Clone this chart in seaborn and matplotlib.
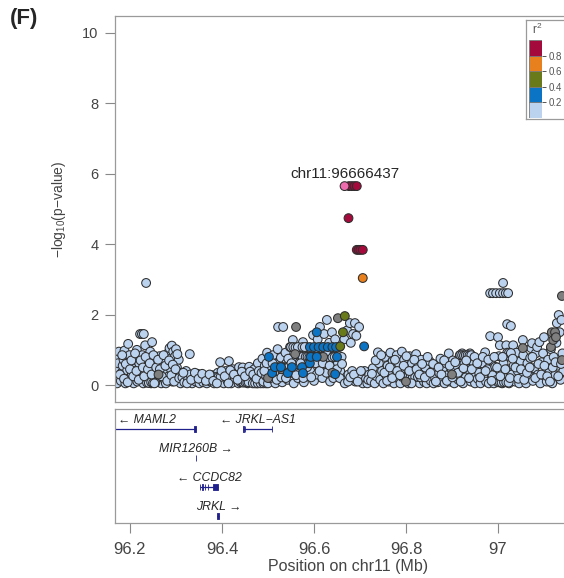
import matplotlib
matplotlib.use("Agg")
import matplotlib.pyplot as plt
import seaborn as sns
import pandas as pd

# --- SNPs: (position in Mb, -log10 p) ---
lb_left = [(96.171, 0.45), (96.172, 0.05), (96.173, 0.80), (96.174, 0.62), (96.175, 0.22),
           (96.176, 0.95), (96.180, 0.12), (96.182, 0.35), (96.184, 0.55), (96.186, 0.72),
           (96.188, 0.98), (96.190, 0.05), (96.192, 0.25), (96.194, 0.42), (96.196, 1.17),
           (96.197, 0.65), (96.199, 0.85), (96.202, 0.15), (96.204, 0.32), (96.206, 0.50),
           (96.208, 0.05), (96.210, 0.72), (96.212, 0.28), (96.215, 1.00), (96.216, 0.10),
           (96.218, 0.45), (96.220, 0.62), (96.222, 1.45), (96.226, 1.45), (96.230, 1.45),
           (96.224, 0.20), (96.227, 0.85), (96.229, 0.05), (96.232, 0.38), (96.233, 1.13),
           (96.235, 2.90), (96.236, 0.58), (96.238, 0.15), (96.240, 0.78), (96.242, 0.30),
           (96.244, 0.95), (96.246, 0.05), (96.248, 1.22), (96.250, 0.48), (96.252, 0.20),
           (96.254, 0.68), (96.256, 0.08), (96.258, 0.35), (96.260, 0.55), (96.262, 0.12),
           (96.264, 0.82), (96.266, 0.28), (96.268, 0.05), (96.270, 0.45), (96.272, 0.65),
           (96.274, 0.18), (96.276, 0.35), (96.278, 0.05), (96.280, 0.55), (96.282, 0.90),
           (96.284, 0.25), (96.286, 1.05), (96.288, 0.75), (96.289, 0.45), (96.291, 1.12),
           (96.292, 0.10), (96.294, 0.95), (96.295, 0.62), (96.297, 0.30), (96.298, 0.82),
           (96.300, 1.02), (96.302, 0.50), (96.304, 0.15), (96.306, 0.72), (96.308, 0.35),
           (96.310, 0.05), (96.237, 0.07), (96.241, 0.06), (96.246, 0.08), (96.250, 0.06),
           (96.255, 0.07),
           (96.178, 0.30), (96.183, 0.85), (96.187, 0.18), (96.191, 0.60), (96.195, 0.08),
           (96.200, 0.45), (96.203, 0.70), (96.207, 0.25), (96.211, 0.90), (96.214, 0.40),
           (96.219, 0.15), (96.223, 0.70), (96.228, 0.50), (96.231, 0.25), (96.234, 0.80),
           (96.239, 0.45), (96.243, 0.62), (96.247, 0.30), (96.251, 0.85), (96.253, 0.05),
           (96.257, 0.50), (96.261, 0.72), (96.265, 0.45), (96.269, 0.25), (96.273, 0.85),
           (96.277, 0.55), (96.281, 0.12), (96.285, 0.70), (96.290, 0.28), (96.293, 0.58),
           (96.296, 0.10), (96.299, 0.45), (96.303, 0.88), (96.307, 0.20)]

lb_mid = [(96.314, 0.22), (96.318, 0.08), (96.322, 0.40), (96.326, 0.15), (96.330, 0.88),
          (96.331, 0.30), (96.335, 0.05), (96.339, 0.20), (96.343, 0.10), (96.347, 0.32),
          (96.351, 0.05), (96.355, 0.18), (96.359, 0.08), (96.363, 0.25), (96.367, 0.05),
          (96.371, 0.15), (96.375, 0.10), (96.379, 0.28), (96.383, 0.05), (96.387, 0.18),
          (96.391, 0.35), (96.395, 0.08), (96.396, 0.65), (96.400, 0.20), (96.404, 0.05),
          (96.408, 0.40), (96.412, 0.12), (96.415, 0.68), (96.416, 0.28), (96.420, 0.05),
          (96.424, 0.45), (96.428, 0.18), (96.432, 0.30), (96.436, 0.05), (96.437, 0.51),
          (96.441, 0.22), (96.445, 0.50), (96.449, 0.10), (96.452, 0.38), (96.456, 0.05),
          (96.459, 0.52), (96.462, 0.25), (96.466, 0.12), (96.470, 0.45), (96.473, 0.30),
          (96.476, 0.05), (96.478, 0.62), (96.482, 0.20),
          (96.376, 0.23), (96.380, 0.23), (96.384, 0.22), (96.388, 0.23), (96.392, 0.22),
          (96.397, 0.23), (96.440, 0.08), (96.444, 0.08), (96.447, 0.07), (96.451, 0.08),
          (96.455, 0.07), (96.458, 0.08), (96.467, 0.05), (96.472, 0.05), (96.478, 0.05),
          (96.484, 0.05), (96.490, 0.05), (96.496, 0.05),
          (96.316, 0.35), (96.324, 0.05), (96.333, 0.15), (96.341, 0.35), (96.349, 0.18),
          (96.357, 0.32), (96.365, 0.12), (96.373, 0.30), (96.381, 0.12), (96.389, 0.05),
          (96.399, 0.40), (96.406, 0.25), (96.414, 0.05), (96.418, 0.42), (96.426, 0.30),
          (96.434, 0.15), (96.443, 0.38), (96.450, 0.25), (96.461, 0.38), (96.468, 0.30),
          (96.475, 0.18), (96.480, 0.40)]

lb_peak = [(96.486, 0.35), (96.488, 0.75), (96.490, 0.10), (96.493, 0.55), (96.496, 0.25),
           (96.498, 0.92), (96.500, 0.05), (96.503, 0.42), (96.506, 0.68), (96.508, 0.18),
           (96.511, 0.85), (96.513, 0.30), (96.516, 0.05), (96.518, 0.60), (96.521, 1.02),
           (96.522, 1.65), (96.523, 0.22), (96.526, 0.45), (96.528, 0.78), (96.531, 0.08),
           (96.533, 1.65), (96.535, 0.32), (96.538, 0.92), (96.540, 0.62), (96.543, 0.15),
           (96.545, 0.48), (96.548, 1.08), (96.550, 0.25), (96.553, 0.72), (96.554, 1.28),
           (96.556, 0.05), (96.559, 0.40), (96.562, 0.88), (96.565, 0.20), (96.567, 0.62),
           (96.570, 1.08), (96.572, 0.35), (96.575, 0.80), (96.576, 1.22), (96.578, 0.08),
           (96.581, 0.52), (96.584, 1.08), (96.586, 0.25), (96.589, 0.80), (96.592, 0.40),
           (96.595, 0.65), (96.598, 1.42), (96.600, 0.12), (96.603, 0.88), (96.606, 0.30),
           (96.608, 1.30), (96.611, 0.55), (96.613, 1.65), (96.615, 0.80), (96.618, 0.20),
           (96.620, 1.08), (96.622, 1.45), (96.624, 0.60), (96.628, 1.85), (96.627, 0.35),
           (96.631, 0.85), (96.633, 1.20), (96.635, 0.10), (96.637, 1.05), (96.639, 1.50),
           (96.641, 0.50), (96.644, 0.78), (96.646, 1.30), (96.648, 0.25), (96.652, 0.62),
           (96.655, 1.08), (96.657, 0.40), (96.660, 0.80), (96.663, 0.15), (96.666, 1.30),
           (96.672, 1.55), (96.675, 0.30), (96.678, 1.76), (96.680, 1.20), (96.685, 1.45),
           (96.689, 1.76), (96.690, 0.10), (96.692, 1.40), (96.683, 0.40), (96.698, 1.65),
           (96.700, 0.22), (96.706, 0.05), (96.710, 0.40), (96.713, 0.18), (96.716, 0.05),
           (96.720, 0.30),
           (96.515, 0.51), (96.520, 0.51), (96.525, 0.50), (96.530, 0.51), (96.535, 0.51),
           (96.540, 0.50), (96.545, 0.51), (96.558, 0.51), (96.563, 0.51), (96.568, 0.50),
           (96.580, 0.51), (96.585, 0.51),
           (96.512, 0.35), (96.517, 0.35), (96.522, 0.34), (96.527, 0.35), (96.532, 0.35),
           (96.537, 0.34), (96.548, 0.35), (96.553, 0.35), (96.558, 0.34), (96.565, 0.35),
           (96.570, 0.35),
           (96.582, 0.80), (96.586, 0.80), (96.590, 0.79), (96.597, 0.80), (96.601, 0.80),
           (96.610, 0.80), (96.614, 0.79), (96.618, 0.80), (96.625, 0.80), (96.630, 0.80),
           (96.640, 0.79), (96.645, 0.80),
           (96.550, 1.08), (96.555, 1.08), (96.560, 1.07), (96.565, 1.08), (96.575, 1.08),
           (96.580, 1.08),
           (96.492, 0.40), (96.497, 0.62), (96.505, 0.20), (96.510, 0.62), (96.519, 0.15),
           (96.529, 0.22), (96.539, 0.20), (96.544, 0.75), (96.551, 0.62), (96.561, 0.28),
           (96.571, 0.62), (96.577, 0.20), (96.588, 0.62), (96.594, 0.22), (96.604, 0.62),
           (96.612, 0.40), (96.619, 0.62), (96.626, 0.95), (96.634, 0.55), (96.642, 0.20),
           (96.650, 0.45), (96.656, 0.20), (96.661, 0.60), (96.667, 0.05), (96.674, 0.10),
           (96.679, 0.22), (96.687, 0.30), (96.695, 0.10), (96.702, 0.40), (96.718, 0.15)]

lb_right = [(96.724, 0.12), (96.728, 0.48), (96.732, 0.05), (96.736, 0.25), (96.739, 0.93),
            (96.741, 0.62), (96.744, 0.15), (96.748, 0.40), (96.751, 0.05), (96.754, 0.80),
            (96.757, 0.28), (96.760, 0.55), (96.763, 0.10), (96.766, 0.92), (96.768, 0.35),
            (96.771, 0.68), (96.774, 0.05), (96.777, 0.45), (96.780, 0.85), (96.782, 0.20),
            (96.785, 0.60), (96.788, 0.05), (96.791, 0.95), (96.793, 0.35), (96.796, 0.72),
            (96.799, 0.15), (96.802, 0.50), (96.805, 0.05), (96.808, 0.82), (96.810, 0.28),
            (96.813, 0.62), (96.816, 0.10), (96.819, 0.42), (96.822, 0.88), (96.824, 0.20),
            (96.827, 0.55), (96.830, 0.05), (96.833, 0.72), (96.836, 0.32), (96.839, 0.10),
            (96.842, 0.50), (96.845, 0.05), (96.848, 0.25), (96.851, 0.68), (96.854, 0.12),
            (96.857, 0.40), (96.860, 0.05), (96.863, 0.22), (96.866, 0.58), (96.869, 0.08),
            (96.872, 0.35), (96.875, 0.75), (96.878, 0.15), (96.881, 0.48), (96.884, 0.05),
            (96.887, 0.62), (96.890, 0.28), (96.893, 0.90), (96.896, 0.10), (96.899, 0.45),
            (96.902, 0.70), (96.905, 0.05), (96.908, 0.30), (96.911, 0.55), (96.914, 0.15),
            (96.917, 0.85), (96.920, 0.40), (96.922, 0.90), (96.924, 0.05), (96.927, 0.62),
            (96.930, 0.22), (96.933, 0.85), (96.936, 0.45), (96.939, 0.90), (96.941, 0.10),
            (96.944, 0.68), (96.947, 0.30), (96.950, 0.05), (96.953, 0.52), (96.956, 0.18),
            (96.959, 0.35), (96.962, 0.05), (96.965, 0.62), (96.968, 0.25), (96.972, 0.93),
            (96.974, 0.10), (96.977, 0.45), (96.980, 0.05), (96.983, 1.39), (96.985, 0.70),
            (96.988, 0.28), (96.991, 0.05), (96.994, 0.52), (96.997, 0.15), (97.000, 1.36),
            (97.002, 0.82), (97.004, 1.13), (97.006, 0.35), (97.009, 0.05), (97.012, 0.62),
            (97.015, 0.20), (97.018, 1.13), (97.020, 1.73), (97.021, 0.45), (97.024, 0.05),
            (97.027, 0.80), (97.028, 1.68), (97.030, 0.30), (97.033, 1.13), (97.034, 0.55),
            (97.037, 0.10), (97.040, 0.92), (97.043, 0.40), (97.046, 0.05), (97.049, 0.68),
            (97.052, 0.22), (97.054, 1.28), (97.055, 0.85), (97.058, 0.45), (97.061, 0.05),
            (97.064, 0.62), (97.067, 0.28), (97.070, 0.77), (97.072, 1.05), (97.074, 1.19),
            (97.076, 0.12), (97.079, 0.48), (97.082, 0.90), (97.085, 1.08), (97.087, 0.30),
            (97.090, 1.22), (97.092, 0.05), (97.095, 0.65), (97.098, 0.90), (97.100, 1.36),
            (97.103, 0.35), (97.106, 0.10), (97.109, 0.72), (97.112, 0.45), (97.115, 1.02),
            (97.118, 0.05), (97.121, 0.80), (97.124, 0.28), (97.127, 1.20), (97.128, 1.76),
            (97.130, 0.55), (97.132, 1.99), (97.134, 1.50), (97.136, 0.15), (97.138, 1.85),
            (97.140, 0.90), (97.142, 0.40),
            (96.983, 2.61), (96.989, 2.61), (96.996, 2.61), (97.004, 2.61), (97.011, 2.61),
            (97.017, 2.61), (97.022, 2.61), (97.011, 2.90),
            (96.918, 0.85), (96.922, 0.85), (96.926, 0.84), (96.930, 0.85), (96.934, 0.85),
            (96.938, 0.84), (96.942, 0.85), (96.792, 0.23), (96.796, 0.23), (96.800, 0.22),
            (96.805, 0.23), (96.810, 0.23), (96.815, 0.22), (96.820, 0.23), (96.826, 0.23),
            (96.832, 0.22), (97.000, 0.08), (97.004, 0.08), (97.008, 0.07), (97.013, 0.08),
            (97.018, 0.08), (97.023, 0.07), (97.020, 0.92), (97.024, 0.92), (97.028, 0.91),
            (96.726, 0.32), (96.734, 0.70), (96.746, 0.85), (96.753, 0.35), (96.759, 0.12),
            (96.765, 0.50), (96.770, 0.20), (96.776, 0.72), (96.781, 0.40), (96.787, 0.28),
            (96.795, 0.55), (96.801, 0.82), (96.807, 0.40), (96.812, 0.05), (96.818, 0.72),
            (96.823, 0.45), (96.829, 0.30), (96.835, 0.60), (96.841, 0.22), (96.847, 0.80),
            (96.853, 0.35), (96.859, 0.60), (96.865, 0.10), (96.871, 0.50), (96.877, 0.30),
            (96.883, 0.70), (96.889, 0.12), (96.895, 0.55), (96.901, 0.22), (96.907, 0.65),
            (96.913, 0.35), (96.919, 0.10), (96.925, 0.48), (96.931, 0.70), (96.937, 0.20),
            (96.943, 0.45), (96.949, 0.80), (96.955, 0.62), (96.961, 0.22), (96.967, 0.80),
            (96.973, 0.40), (96.979, 0.72), (96.986, 0.12), (96.992, 0.80), (96.998, 0.50),
            (97.005, 0.25), (97.010, 0.80), (97.016, 0.45), (97.026, 0.20), (97.032, 0.75),
            (97.038, 0.50), (97.044, 0.18), (97.050, 0.45), (97.057, 0.15), (97.063, 0.35),
            (97.069, 0.50), (97.075, 0.80), (97.081, 0.20), (97.088, 0.60), (97.094, 0.30),
            (97.101, 0.55), (97.107, 0.25), (97.113, 0.10), (97.119, 0.50), (97.125, 0.65),
            (97.131, 0.25), (97.137, 0.60)]

no_ld = [(96.262, 0.30), (96.500, 0.20), (96.530, 0.45), (96.559, 0.88), (96.561, 1.65),
         (96.620, 0.80), (96.640, 0.35), (96.652, 1.90), (96.800, 0.10), (96.900, 0.30),
         (97.054, 1.05), (97.115, 1.08), (97.117, 1.50), (97.120, 1.28), (97.124, 1.50),
         (97.126, 1.36), (97.139, 2.53), (97.139, 0.71)]

ld_02_04 = [(96.502, 0.80), (96.509, 0.34), (96.515, 0.51), (96.528, 0.51), (96.543, 0.34),
            (96.552, 0.51), (96.574, 0.51), (96.576, 0.34), (96.591, 0.62), (96.591, 1.08),
            (96.593, 0.80), (96.600, 1.08), (96.606, 1.50), (96.606, 0.80), (96.610, 1.08),
            (96.620, 1.08), (96.630, 1.08), (96.640, 1.08), (96.646, 0.31), (96.648, 1.08),
            (96.650, 0.80), (96.709, 1.10)]
ld_04_06 = [(96.657, 1.10), (96.663, 1.50), (96.667, 1.96)]
ld_06_08 = [(96.706, 3.04)]
ld_08_10 = [(96.676, 5.65), (96.682, 5.65), (96.688, 5.65), (96.693, 5.65), (96.675, 4.74),
            (96.693, 3.84), (96.697, 3.84), (96.701, 3.84), (96.706, 3.84)]
lead_snp = [(96.666437, 5.65)]
lead_name = "chr11:96666437"

# --- genes: name, start, end, strand, track row, exons (start, end) ---
genes = [
    ("MAML2", 95.978, 96.343, "-", 1, [(96.340, 96.343)]),
    ("JRKL\u2212AS1", 96.446, 96.509, "-", 1, [(96.446, 96.447), (96.449, 96.450), (96.508, 96.509)]),
    ("MIR1260B", 96.3425, 96.3432, "+", 2, [(96.3425, 96.3432)]),
    ("CCDC82", 96.352, 96.392, "-", 3, [(96.352, 96.353), (96.357, 96.358), (96.363, 96.364),
                                       (96.369, 96.370), (96.381, 96.392)]),
    ("JRKL", 96.390, 96.394, "+", 4, [(96.390, 96.394)]),
]

ld_bins = [0.0, 0.2, 0.4, 0.6, 0.8, 1.0]
ld_labels = ["0-0.2", "0.2-0.4", "0.4-0.6", "0.6-0.8", "0.8-1", "lead", "NA"]
ld_colors = {"0-0.2": "#BCD3F0", "0.2-0.4": "#0B74C4", "0.4-0.6": "#697A1A",
             "0.6-0.8": "#E8801E", "0.8-1": "#A50A3D", "lead": "#EE6BAE", "NA": "#7F7F7F"}
draw_order = ["0-0.2", "NA", "0.2-0.4", "0.4-0.6", "0.6-0.8", "0.8-1", "lead"]

XMIN, XMAX = 96.1674, 97.1826
GENE_COL = "#20208C"


def build_snps():
    groups = [("0-0.2", lb_left), ("0-0.2", lb_mid), ("0-0.2", lb_peak), ("0-0.2", lb_right),
              ("NA", no_ld), ("0.2-0.4", ld_02_04), ("0.4-0.6", ld_04_06),
              ("0.6-0.8", ld_06_08), ("0.8-1", ld_08_10), ("lead", lead_snp)]
    frames = []
    for label, pts in groups:
        df = pd.DataFrame(pts, columns=["pos", "logp"])
        df["ld"] = label
        frames.append(df)
    snps = pd.concat(frames, ignore_index=True)
    snps["rank"] = snps["ld"].map({k: i for i, k in enumerate(draw_order)})
    return snps.sort_values("rank", kind="stable")


def draw_genes(gx):
    for name, start, end, strand, row, exons in genes:
        gx.hlines(row, start, end, color=GENE_COL, lw=0.9)
        gx.broken_barh([(s, e - s) for s, e in exons], (row - 0.1, 0.2),
                       facecolors=GENE_COL, edgecolors=GENE_COL, linewidth=0.6)
        label = "\u2190 " + name if strand == "-" else name + " \u2192"
        centre = (start + end) / 2
        if centre < XMIN:
            gx.text(XMIN + 0.006, row - 0.3, label, ha="left", va="center",
                    fontsize=8.8, style="italic")
        else:
            gx.text(centre, row - 0.3, label, ha="center", va="center",
                    fontsize=8.8, style="italic")


def main():
    sns.set_style("ticks")
    plt.rcParams["font.family"] = ["Liberation Sans", "DejaVu Sans"]
    plt.rcParams["mathtext.fontset"] = "custom"
    plt.rcParams["mathtext.rm"] = "Liberation Sans"

    fig = plt.figure(figsize=(5.64, 5.78), dpi=100)
    ax = fig.add_axes([115 / 564, 176 / 578, 467 / 564, 386 / 578])
    gx = fig.add_axes([115 / 564, 55 / 578, 467 / 564, 114 / 578])

    snps = build_snps()
    sns.scatterplot(data=snps, x="pos", y="logp", hue="ld", palette=ld_colors,
                    s=40, edgecolor="#2E2E2E", linewidth=0.75, legend=False, ax=ax)
    lx, ly = lead_snp[0]
    ax.text(lx, ly + 0.24, lead_name, ha="center", va="baseline", fontsize=11)

    ax.set_xlim(XMIN, XMAX)
    ax.set_ylim(-0.48, 10.48)
    ax.set_xticks([])
    ax.set_yticks([0, 2, 4, 6, 8, 10])
    ax.set_xlabel("")
    ax.set_ylabel(r"$\mathregular{-log_{10}(p{-}value)}$", fontsize=10, color="#444444",
                  labelpad=10)
    ax.tick_params(axis="y", length=7, width=0.8, color="#888888", pad=5,
                   labelsize=10.5, labelcolor="#444444")
    for sp in ax.spines.values():
        sp.set_visible(True)
        sp.set_color("#9A9A9A")
        sp.set_linewidth(0.9)

    draw_genes(gx)
    gx.set_xlim(XMIN, XMAX)
    gx.set_ylim(4.24, 0.31)
    gx.set_yticks([])
    gx.set_xticks([96.2, 96.4, 96.6, 96.8, 97.0])
    gx.set_xticklabels(["96.2", "96.4", "96.6", "96.8", "97"])
    gx.tick_params(axis="x", length=7, width=0.8, color="#888888", pad=7,
                   labelsize=12, labelcolor="#444444")
    gx.set_xlabel("Position on chr11 (Mb)", fontsize=11.5, color="#444444", labelpad=1)
    for sp in gx.spines.values():
        sp.set_visible(True)
        sp.set_color("#9A9A9A")
        sp.set_linewidth(0.9)

    # r2 key in the top right corner
    box = fig.add_axes([526 / 564, 459 / 578, 60 / 564, 99 / 578])
    box.set_xticks([])
    box.set_yticks([])
    for sp in box.spines.values():
        sp.set_color("#9A9A9A")
        sp.set_linewidth(0.9)
    box.text(11 / 60, 0.90, r"$\mathregular{r^2}$", transform=box.transAxes,
             ha="center", va="center", fontsize=8.5, color="#555555")
    key = fig.add_axes([529 / 564, 460 / 578, 13 / 564, 78 / 578])
    key_cols = [ld_colors[k] for k in ld_labels[:5]]
    key.bar(0, [b - a for a, b in zip(ld_bins[:-1], ld_bins[1:])], bottom=ld_bins[:-1],
            width=1, color=key_cols, edgecolor="#7A7A7A", linewidth=0.6)
    key.set_xlim(-0.5, 0.5)
    key.set_ylim(0, 1)
    key.set_xticks([])
    key.yaxis.tick_right()
    key.set_yticks(ld_bins[1:-1])
    key.set_yticklabels(["0.2", "0.4", "0.6", "0.8"])
    key.tick_params(axis="y", length=3, width=0.7, color="#555555", pad=1.5,
                    labelsize=7, labelcolor="#555555")
    for sp in key.spines.values():
        sp.set_visible(False)

    fig.text(10 / 564, 1 - 8 / 578, "(F)", fontsize=16, fontweight="bold",
             ha="left", va="top")

    fig.savefig("out.png", dpi=100)


if __name__ == "__main__":
    main()
